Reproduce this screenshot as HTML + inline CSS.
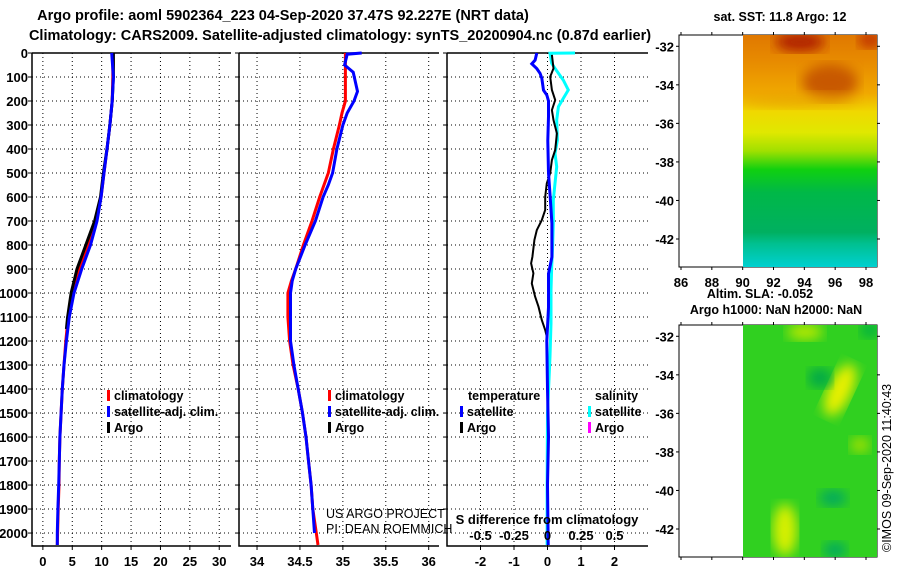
<!DOCTYPE html>
<html><head><meta charset="utf-8"><style>
html,body{margin:0;padding:0;background:#fff;}
svg{display:block;font-family:"Liberation Sans",sans-serif;}
.b{font-weight:bold;}
</style></head><body>
<svg id="c" width="900" height="580" viewBox="0 0 900 580">
<defs>
<linearGradient id="sstg" x1="0" y1="0" x2="0" y2="1">
<stop offset="0" stop-color="#e07800"/><stop offset="0.12" stop-color="#e88c00"/>
<stop offset="0.25" stop-color="#f0a800"/><stop offset="0.33" stop-color="#f0d800"/>
<stop offset="0.42" stop-color="#e0e800"/><stop offset="0.5" stop-color="#a0e000"/>
<stop offset="0.58" stop-color="#10d010"/><stop offset="0.68" stop-color="#00b848"/>
<stop offset="0.85" stop-color="#00b060"/><stop offset="0.9" stop-color="#00c090"/>
<stop offset="1" stop-color="#00d0d0"/></linearGradient>
<filter id="bl"><feGaussianBlur stdDeviation="6"/></filter>
</defs>
<g id="titles">
<text class="b" x="283" y="20" font-size="14.5" text-anchor="middle">Argo profile: aoml 5902364_223 04-Sep-2020 37.47S 92.227E (NRT data)</text>
<text class="b" x="340" y="40" font-size="14.5" text-anchor="middle">Climatology: CARS2009. Satellite-adjusted climatology: synTS_20200904.nc (0.87d earlier)</text>
</g>
<g id="plots"></g>
<g id="maps">
<text class="b" x="780" y="21" font-size="12.5" text-anchor="middle">sat. SST: 11.8 Argo: 12</text>
<rect x="679" y="35" width="198" height="232" fill="#fff" stroke="#000"/>
<g clip-path="url(#m1c)">
<rect x="743" y="35" width="134" height="232" fill="url(#sstg)"/>
<ellipse cx="800" cy="42" rx="25" ry="10" fill="#b02000" filter="url(#bl)"/>
<ellipse cx="870" cy="40" rx="12" ry="8" fill="#c03000" filter="url(#bl)"/>
<ellipse cx="830" cy="82" rx="28" ry="18" fill="#c85800" filter="url(#bl)"/>
<ellipse cx="800" cy="100" rx="60" ry="8" fill="#e8a000" filter="url(#bl)" opacity="0.6"/>
</g>
<clipPath id="m1c"><rect x="743" y="35" width="134" height="232"/></clipPath>
<clipPath id="m2c"><rect x="743" y="325" width="134" height="232"/></clipPath>
<text class="b" x="760" y="298" font-size="12.5" text-anchor="middle">Altim. SLA: -0.052</text>
<text class="b" x="776" y="314" font-size="12.5" text-anchor="middle">Argo h1000: NaN h2000: NaN</text>
<rect x="679" y="325" width="198" height="232" fill="#fff" stroke="#000"/>
<g clip-path="url(#m2c)">
<rect x="743" y="325" width="134" height="232" fill="#30d020"/>
<ellipse cx="840" cy="390" rx="12" ry="28" fill="#e8f000" filter="url(#bl)" transform="rotate(25 840 390)"/>
<ellipse cx="785" cy="530" rx="12" ry="26" fill="#d8f000" filter="url(#bl)"/>
<ellipse cx="805" cy="332" rx="18" ry="8" fill="#b8e800" filter="url(#bl)"/>
<ellipse cx="820" cy="378" rx="12" ry="10" fill="#00a848" filter="url(#bl)"/>
<ellipse cx="833" cy="498" rx="14" ry="8" fill="#00a860" filter="url(#bl)"/>
<ellipse cx="870" cy="330" rx="10" ry="8" fill="#00b040" filter="url(#bl)"/>
<ellipse cx="860" cy="445" rx="10" ry="8" fill="#a0e000" filter="url(#bl)"/>
<ellipse cx="835" cy="550" rx="12" ry="8" fill="#00a860" filter="url(#bl)"/>
</g>
<text x="0" y="0" font-size="12.5" transform="translate(891 552) rotate(-90)">©IMOS 09-Sep-2020 11:40:43</text>
</g>
</svg>
<script>
// ---- data ----
const tDepth = [0,100,200,300,400,500,600,700,800,900,1000,1100,1200,1300,1400,1500,1600,1700,1800,1900,2000,2050];
const tClim  = [11.9,11.9,11.8,11.4,10.9,10.4,9.9,9.0,7.7,6.2,5.0,4.3,3.9,3.6,3.3,3.1,2.9,2.8,2.75,2.6,2.5,2.45];
const tSat   = [11.7,12.0,11.8,11.4,10.9,10.4,9.9,9.2,8.1,6.6,5.3,4.5,4.0,3.6,3.3,3.1,2.9,2.8,2.7,2.55,2.45,2.45];
const tArgoDepth = [0,100,200,300,400,500,600,700,800,900,1000,1100,1150];
const tArgo  = [12.0,12.0,11.8,11.4,10.9,10.3,9.8,8.8,7.3,5.8,4.8,4.2,4.0];
const sDepth = [0,200,250,300,400,500,600,700,800,900,950,1000,1100,1200,1300,1400,1500,1600,1700,1800,1900,2000,2050];
const sClim  = [35.03,35.03,34.99,34.96,34.89,34.83,34.73,34.64,34.54,34.45,34.40,34.36,34.36,34.38,34.42,34.48,34.53,34.57,34.60,34.63,34.65,34.69,34.71];
const sSatDepth = [0,5,50,80,160,200,250,300,400,500,550,600,700,800,900,950,1000,1100,1200,1300,1400,1500,1600,1700,1800,1900,2000];
const sSat   = [35.22,35.05,35.02,35.12,35.17,35.13,35.05,35.00,34.93,34.88,34.83,34.77,34.68,34.56,34.45,34.41,34.39,34.39,34.39,34.43,34.48,34.53,34.57,34.60,34.63,34.65,34.67];
const dtSatDepth = [0,30,45,65,85,105,155,175,200,265,365,500,600,710,850,920,1060,1200,1400,1600,1800,2050];
const dtSat  = [-0.32,-0.37,-0.47,-0.32,-0.22,-0.17,-0.12,-0.02,0.03,0.03,0.01,0.03,0.08,0.13,0.13,0.03,0.03,-0.02,0.0,0.03,0.0,0.02];
const dtArgoDepth = [8,64,99,154,196,238,279,335,404,446,501,543,599,654,696,738,779,849,876,918,960,1015,1057,1113,1154,1182,1196];
const dtArgo = [0.13,0.18,0.08,0.13,0.23,0.13,0.18,0.28,0.23,0.13,0.08,-0.02,-0.07,-0.07,-0.17,-0.32,-0.39,-0.45,-0.49,-0.42,-0.47,-0.37,-0.27,-0.17,-0.07,-0.02,-0.02];
const dsSatDepth = [0,1,43,64,113,154,189,224,279,363,418,474,543,613,710,807,890,988,1126,1265,1500,1800,2050];
const dsSat  = [0.205,0.019,0.031,0.056,0.118,0.155,0.118,0.081,0.069,0.074,0.056,0.069,0.056,0.043,0.043,0.038,0.031,0.026,0.026,0.019,0.0,-0.003,-0.003];
const depthTicks = [0,100,200,300,400,500,600,700,800,900,1000,1100,1200,1300,1400,1500,1600,1700,1800,1900,2000];
const tTicks = [0,5,10,15,20,25,30];
const sTicks = [34,34.5,35,35.5,36];
const dTicks = [-2,-1,0,1,2];
const dsTickLabels = ['-0.5','-0.25','0','0.25','0.5'];
const lonTicks = [86,88,90,92,94,96,98];
const latTicks = [-32,-34,-36,-38,-40,-42];

// ---- scales ----
const NS='http://www.w3.org/2000/svg';
const top0=53, bot=546;
const yD = d => top0 + d*(bot-top0)/2054;
function lin(d0,d1,r0,r1){return v=>r0+(v-d0)*(r1-r0)/(d1-d0);}
const panels=[
 {x0:32,x1:231,dom:[-1.85,32],ticks:tTicks,name:'temperature-panel'},
 {x0:239,x1:439,dom:[33.79,36.12],ticks:sTicks,name:'salinity-panel'},
 {x0:447,x1:648,dom:[-3,3],ticks:dTicks,name:'difference-panel'}];
const root=document.getElementById('plots');
function el(tag,attrs,parent){const e=document.createElementNS(NS,tag);for(const k in attrs)e.setAttribute(k,attrs[k]);(parent||root).appendChild(e);return e;}
function txt(s,attrs,parent){const e=el('text',attrs,parent);e.textContent=s;return e;}

panels.forEach((p,pi)=>{
 p.x=lin(p.dom[0],p.dom[1],p.x0,p.x1);
 const g=el('g',{});
 
 
 p.g=g;
 depthTicks.forEach(d=>{
  const y=yD(d);
  const gl=el('line',{x1:p.x0,x2:p.x1,y1:y,y2:y,stroke:'#000','stroke-width':1,'stroke-dasharray':'1 3'},g);
  
  
  el('line',{x1:p.x0-4,x2:p.x0,y1:y,y2:y,stroke:'#000'},g);
  if(pi===0){
   const t=txt(String(d),{x:28,y:y+5,'font-size':13,'font-weight':'bold','text-anchor':'end'},g);
   
   
  }
 });
 p.ticks.forEach(v=>{
  const x=p.x(v);
  const gl=el('line',{x1:x,x2:x,y1:top0,y2:bot,stroke:'#000','stroke-width':1,'stroke-dasharray':'1 3'},g);
  
  
  el('line',{x1:x,x2:x,y1:bot,y2:bot+4,stroke:'#000'},g);
  const t=txt(String(v),{x:x,y:566,'font-size':13,'font-weight':'bold','text-anchor':'middle'},g);
  
  
 });
 const ax=el('polyline',{points:`${p.x0},${top0} ${p.x0},${bot} ${p.x1},${bot}`,fill:'none',stroke:'#000','stroke-width':1.5},g);
 
 
 el('line',{x1:p.x0,x2:p.x1,y1:top0,y2:top0,stroke:'#000','stroke-width':1.5},g);
});

function line(p,xs,ds,color,name,w){
 const pts=xs.map((v,i)=>`${p.x(v).toFixed(1)},${yD(ds[i]).toFixed(1)}`).join(' ');
 const l=el('polyline',{points:pts,fill:'none',stroke:color,'stroke-width':w||3,'stroke-linejoin':'miter'},p.g);
 
 
}
const P1=panels[0],P2=panels[1],P3=panels[2];
line(P1,tClim,tDepth,'#ff0000','temp-climatology-line');
line(P1,tArgo,tArgoDepth,'#000','temp-argo-line');
line(P1,tSat,tDepth,'#0000ff','temp-satellite-line');
line(P2,sClim,sDepth,'#ff0000','sal-climatology-line');
line(P2,sSat,sSatDepth,'#0000ff','sal-satellite-line');
const sx=lin(-0.75,0.75,P3.x0,P3.x1);
const P3s={x:sx,g:P3.g};
line(P3s,dsSat,dsSatDepth,'#00ffff','sal-diff-satellite-line');
line(P3,dtArgo,dtArgoDepth,'#000','temp-diff-argo-line',2);
line(P3,dtSat,dtSatDepth,'#0000ff','temp-diff-satellite-line');

// salinity diff axis labels (inside)
dsTickLabels.forEach(s=>{
 const t=txt(s,{x:sx(parseFloat(s)),y:540,'font-size':13,'font-weight':'bold','text-anchor':'middle'},P3.g);
 
 
});
const st=txt('S difference from climatology',{x:547,y:524,'font-size':13,'font-weight':'bold','text-anchor':'middle'},P3.g);



// legends
function legend(g,x,y,items){
 items.forEach((it,i)=>{
  const yy=y+i*16;
  el('rect',{x:x,y:yy-10,width:3,height:11,fill:it[1]},g);
  const t=txt(it[0],{x:x+7,y:yy,'font-size':12.5,'font-weight':'bold'},g);
  
  
 });
}
const lg=[['climatology','#ff0000'],['satellite-adj. clim.','#0000ff'],['Argo','#000']];
legend(P1.g,107,400,lg);
legend(P2.g,328,400,lg);
const lt=txt('temperature',{x:468,y:400,'font-size':12.5,'font-weight':'bold'},P3.g);


legend(P3.g,460,416,[['satellite','#0000ff'],['Argo','#000']]);
const ls=txt('salinity',{x:595,y:400,'font-size':12.5,'font-weight':'bold'},P3.g);


legend(P3.g,588,416,[['satellite','#00ffff'],['Argo','#ff00ff']]);
const c1=txt('US ARGO PROJECT',{x:326,y:518,'font-size':12.5},P2.g);


const c2=txt('PI: DEAN ROEMMICH',{x:326,y:533,'font-size':12.5},P2.g);



// map axes
const maps=document.getElementById('maps');
const lonX=lin(86,98,681,866);
const latY=lin(-32,-42,46.3,239);
[[35,267,true],[325,557,false]].forEach(([t,b,labels])=>{
 lonTicks.forEach(v=>{
  const x=lonX(v);
  el('line',{x1:x,x2:x,y1:b,y2:b+3,stroke:'#000'},maps);
  el('line',{x1:x,x2:x,y1:t,y2:t-3,stroke:'#000'},maps);
  if(labels){const tx=txt(String(v),{x:x,y:b+20,'font-size':13,'font-weight':'bold','text-anchor':'middle'},maps);
   
   }
 });
 latTicks.forEach(v=>{
  const y=latY(v)+(t-35);
  el('line',{x1:676,x2:679,y1:y,y2:y,stroke:'#000'},maps);
  el('line',{x1:877,x2:880,y1:y,y2:y,stroke:'#000'},maps);
  const tx=txt(String(v),{x:674,y:y+5,'font-size':13,'font-weight':'bold','text-anchor':'end'},maps);
  
  
 });
});
</script>
</body></html>
